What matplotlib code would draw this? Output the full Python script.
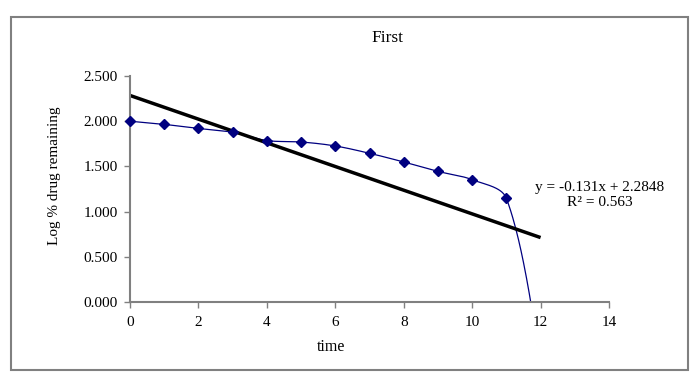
import numpy as np
import matplotlib
matplotlib.use("Agg")
import matplotlib.pyplot as plt
from matplotlib.patches import Rectangle

# Data
time = [0, 1, 2, 3, 4, 5, 6, 7, 8, 9, 10, 11, 12]
log_remaining = [2.000, 1.965, 1.920, 1.877, 1.786, 1.770, 1.726, 1.645, 1.549, 1.445, 1.353, 1.147, -0.65]
trend_slope = -0.131
trend_intercept = 2.2848
trend_label = "y = -0.131x + 2.2848\nR² = 0.563"
x_ticks = [0, 2, 4, 6, 8, 10, 12, 14]
y_ticks = [0.0, 0.5, 1.0, 1.5, 2.0, 2.5]

plt.rcParams['font.family'] = ['Liberation Serif', 'DejaVu Serif']


def excel_smooth(ax, xs, ys, n=50):
    """Bezier smoothing computed in screen space, with control points scaled by chord lengths."""
    pts = ax.transData.transform(np.column_stack([xs, ys]))
    m = len(pts)
    out = []
    for i in range(m - 1):
        p1, p2 = pts[i], pts[i + 1]
        p0 = pts[i - 1] if i > 0 else p1
        p3 = pts[i + 2] if i + 2 < m else p2
        d01 = np.linalg.norm(p1 - p0)
        d12 = np.linalg.norm(p2 - p1)
        d23 = np.linalg.norm(p3 - p2)
        f1 = d12 / (d01 + d12) if d01 > 0 else 0.5
        f2 = d12 / (d12 + d23) if d23 > 0 else 0.5
        c1 = p1 + (p2 - p0) * f1 / 3
        c2 = p2 - (p3 - p1) * f2 / 3
        t = np.linspace(0, 1, n)[:, None]
        b = (1 - t) ** 3 * p1 + 3 * (1 - t) ** 2 * t * c1 + 3 * (1 - t) * t ** 2 * c2 + t ** 3 * p2
        out.append(b)
    out = np.vstack(out)
    d = ax.transData.inverted().transform(out)
    return d[:, 0], d[:, 1]


fig = plt.figure(figsize=(7.0, 3.85), dpi=100)
fig.patches.append(Rectangle((11/700, 1-370/385), 677/700, 353/385, transform=fig.transFigure,
                             fill=False, edgecolor='#808080', linewidth=1.5))

ax = fig.add_axes([130/700, 1-302/385, 479/700, 226/385])
ax.set_xlim(0, 14)
ax.set_ylim(0, 2.5)

sx, sy = excel_smooth(ax, time, log_remaining)
ax.plot(sx, sy, color='#000080', linewidth=0.9, clip_on=True)
ax.plot(time[:-1], log_remaining[:-1], linestyle='none', marker='D', markersize=5,
        color='#000080', clip_on=False, zorder=3)

tx = np.array([0, 12])
ax.plot(tx, trend_slope*tx + trend_intercept, color='black', linewidth=2.5, solid_capstyle='butt')

ax.set_xticks(x_ticks)
ax.set_yticks(y_ticks)
ax.set_yticklabels([f"{v:.3f}" for v in y_ticks])
for s in ('top', 'right'):
    ax.spines[s].set_visible(False)
for s in ('left', 'bottom'):
    ax.spines[s].set_color('#808080')
    ax.spines[s].set_linewidth(1.5)
ax.tick_params(direction='out', length=4, width=1, color='#808080', labelsize=11)
ax.tick_params(axis='x', pad=6)
ax.tick_params(axis='y', pad=5)

fig.text(600/700, 1-195/385, trend_label, ha='center', va='center',
         fontsize=11, linespacing=1.15)
fig.text(387/700, 1-38/385, "First", ha='center', va='center', fontsize=12.5)
fig.text(331/700, 1-347/385, "time", ha='center', va='center', fontsize=11.5)
fig.text(55/700, 1-176/385, "Log % drug remaining", ha='center', va='center', rotation=90, fontsize=11)

fig.savefig("out.png", dpi=100)
